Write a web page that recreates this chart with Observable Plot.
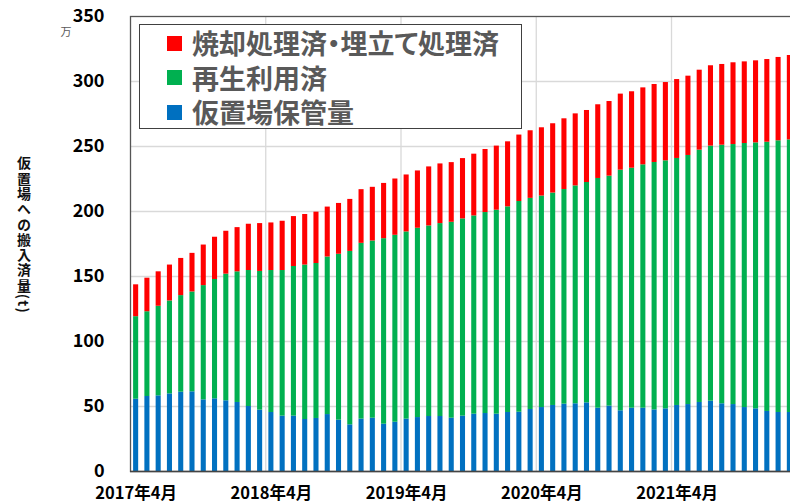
<!DOCTYPE html>
<html>
<head>
<meta charset="utf-8">
<script src="https://cdn.jsdelivr.net/npm/d3@7"></script>
<script src="https://cdn.jsdelivr.net/npm/@observablehq/plot@0.6"></script>
<style>
  html, body { margin: 0; padding: 0; overflow: hidden; background: #fff; }
  #wrap { position: relative; width: 790px; height: 503px; overflow: hidden; }
  #legend {
    position: absolute; left: 139px; top: 24px; width: 381px; height: 103px;
    border: 1.5px solid #404040; background: #fff;
    font-family: "Noto Sans CJK JP", "Noto Sans", sans-serif; font-weight: 700;
    font-size: 27px; letter-spacing: 0px; color: #595959;
    font-feature-settings: "palt";
  }
  #legend .item { position: absolute; left: 27px; height: 28px; display: flex; align-items: center; white-space: nowrap; }
  #legend .sw { width: 15px; height: 15px; margin-right: 10px; flex: none; }
  #legend .tx { display: block; height: 28px; line-height: 28px; overflow: visible; }
  #ytitle {
    position: absolute; left: 15px; top: 156px; line-height: 17px;
    writing-mode: vertical-rl; text-orientation: mixed;
    font-family: "Noto Sans CJK JP", sans-serif; font-weight: 700; font-size: 14px;
    letter-spacing: 1.3px; color: #111;
  }
</style>
</head>
<body>
<div id="wrap"></div>
<script>
// ---- data (万t), monthly from 2017年4月 ----
const seriesNames = ["仮置場保管量", "再生利用済", "焼却処理済・埋立て処理済"];
const seriesColors = ["#0070C0", "#00B050", "#FF0000"];
const legendOrder = ["焼却処理済・埋立て処理済", "再生利用済", "仮置場保管量"];
const storage = [55.6,57.7,58.2,59.7,61.0,61.3,55.1,55.9,54.4,53.1,50.0,47.2,45.4,42.6,42.6,40.0,40.8,43.8,39.5,35.9,40.3,41.0,36.4,37.9,40.3,41.5,42.3,42.3,41.0,
  42.6,44.1,44.6,44.1,45.4,45.6,47.7,49.2,50.8,51.8,52.1,52.8,48.7,50.3,46.7,48.7,48.7,47.4,48.2,50.8,51.5,53.1,54.1,52.1,51.5,49.2,48.2,46.2,45.4,45.4];
const recycled = [63.5,65.2,68.9,71.5,74.3,76.8,87.9,91.8,97.4,100.5,104.6,106.7,109.2,112.0,115.1,118.8,119.2,121.2,127.6,133.4,
  135.2,136.3,142.7,143.8,144.0,145.6,146.6,148.4,150.7,151.7,152.5,154.6,156.9,158.2,162.1,162.4,162.7,163.4,165.1,167.6,
  169.5,176.7,176.9,185.1,184.6,187.2,190.3,190.8,190.0,191.6,194.1,196.2,198.9,200.0,203.1,204.6,207.1,209.0,209.7];
const incinerated = [24.5,25.8,26.5,27.6,28.6,29.7,31.2,32.5,33.0,34.0,35.6,36.8,36.6,37.9,38.4,38.9,39.5,38.4,39.1,40.0,
  41.3,41.3,42.5,43.3,43.8,44.1,45.4,45.9,45.9,46.4,47.5,48.5,49.3,50.0,51.1,52.0,52.5,53.3,54.4,55.4,
  55.4,56.7,57.4,58.5,58.8,59.2,60.0,60.2,60.7,61.0,61.5,61.8,62.1,62.9,62.8,63.1,63.6,64.1,64.9];
const yTicks = [0, 50, 100, 150, 200, 250, 300, 350];
const yUnit = "万";
const yTitle = "仮置場への搬入済量(t)";

// month categories
const months = [];
for (let i = 0; i < storage.length; i++) {
  const mi = 3 + i; // April 2017 = index 3
  months.push(`${2017 + Math.floor(mi / 12)}年${(mi % 12) + 1}月`);
}
const xTickLabels = months.filter(m => m.endsWith("年4月"));

const table = [];
months.forEach((m, i) => {
  table.push({month: m, series: seriesNames[0], value: storage[i]});
  table.push({month: m, series: seriesNames[1], value: recycled[i]});
  table.push({month: m, series: seriesNames[2], value: incinerated[i]});
});

const W = 800, H = 503;
const mL = 130, mR = 5;
const step = (W - mL - mR) / months.length;

const chart = Plot.plot({
  width: W, height: H,
  marginLeft: mL, marginRight: mR, marginTop: 16, marginBottom: 32,
  style: {fontFamily: "'Noto Sans CJK JP', 'Noto Sans', sans-serif", fontSize: "18px", fontWeight: "bold", color: "#000", background: "#fff", maxWidth: "none", overflow: "hidden"},
  x: {domain: months, round: false, paddingInner: 0.55, paddingOuter: 0.275, ticks: xTickLabels, tickSize: 0, tickPadding: 16, label: null},
  y: {domain: [0, 350], ticks: yTicks, tickSize: 0, tickPadding: 26, label: null},
  color: {domain: seriesNames, range: seriesColors},
  marks: [
    Plot.ruleY(yTicks.slice(1, -1), {stroke: "#d9d9d9", strokeWidth: 1.3}),
    Plot.ruleX(xTickLabels.slice(1), {x: d => d, dx: -step / 2, stroke: "#d9d9d9", strokeWidth: 1.3}),
    Plot.barY(table, {x: "month", y: "value", fill: "series", order: seriesNames}),
    Plot.frame({stroke: "#555", strokeWidth: 1.3}),
    Plot.ruleY([0], {stroke: "#444", strokeWidth: 1.5}),
    Plot.text([yUnit], {text: d => d, frameAnchor: "top-left", dx: -70, dy: 12, fontSize: 11, fontWeight: "normal", fill: "#595959"})
  ]
});

// x tick labels slightly smaller
chart.querySelectorAll('[aria-label^="x-axis"] text').forEach(t => t.setAttribute("font-size", "16.5px"));

const wrap = document.getElementById("wrap");
wrap.appendChild(chart);

// legend
const legend = document.createElement("div");
legend.id = "legend";
const colorOf = Object.fromEntries(seriesNames.map((s, i) => [s, seriesColors[i]]));
legendOrder.forEach((name, i) => {
  const item = document.createElement("div");
  item.className = "item";
  item.style.top = (4 + i * 34.5) + "px";
  const sw = document.createElement("span");
  sw.className = "sw";
  sw.style.background = colorOf[name];
  const tx = document.createElement("span");
  tx.className = "tx";
  tx.textContent = name;
  item.appendChild(sw); item.appendChild(tx);
  legend.appendChild(item);
});
wrap.appendChild(legend);

// vertical y-axis title
const yt = document.createElement("div");
yt.id = "ytitle";
yt.textContent = yTitle;
wrap.appendChild(yt);
</script>
</body>
</html>
